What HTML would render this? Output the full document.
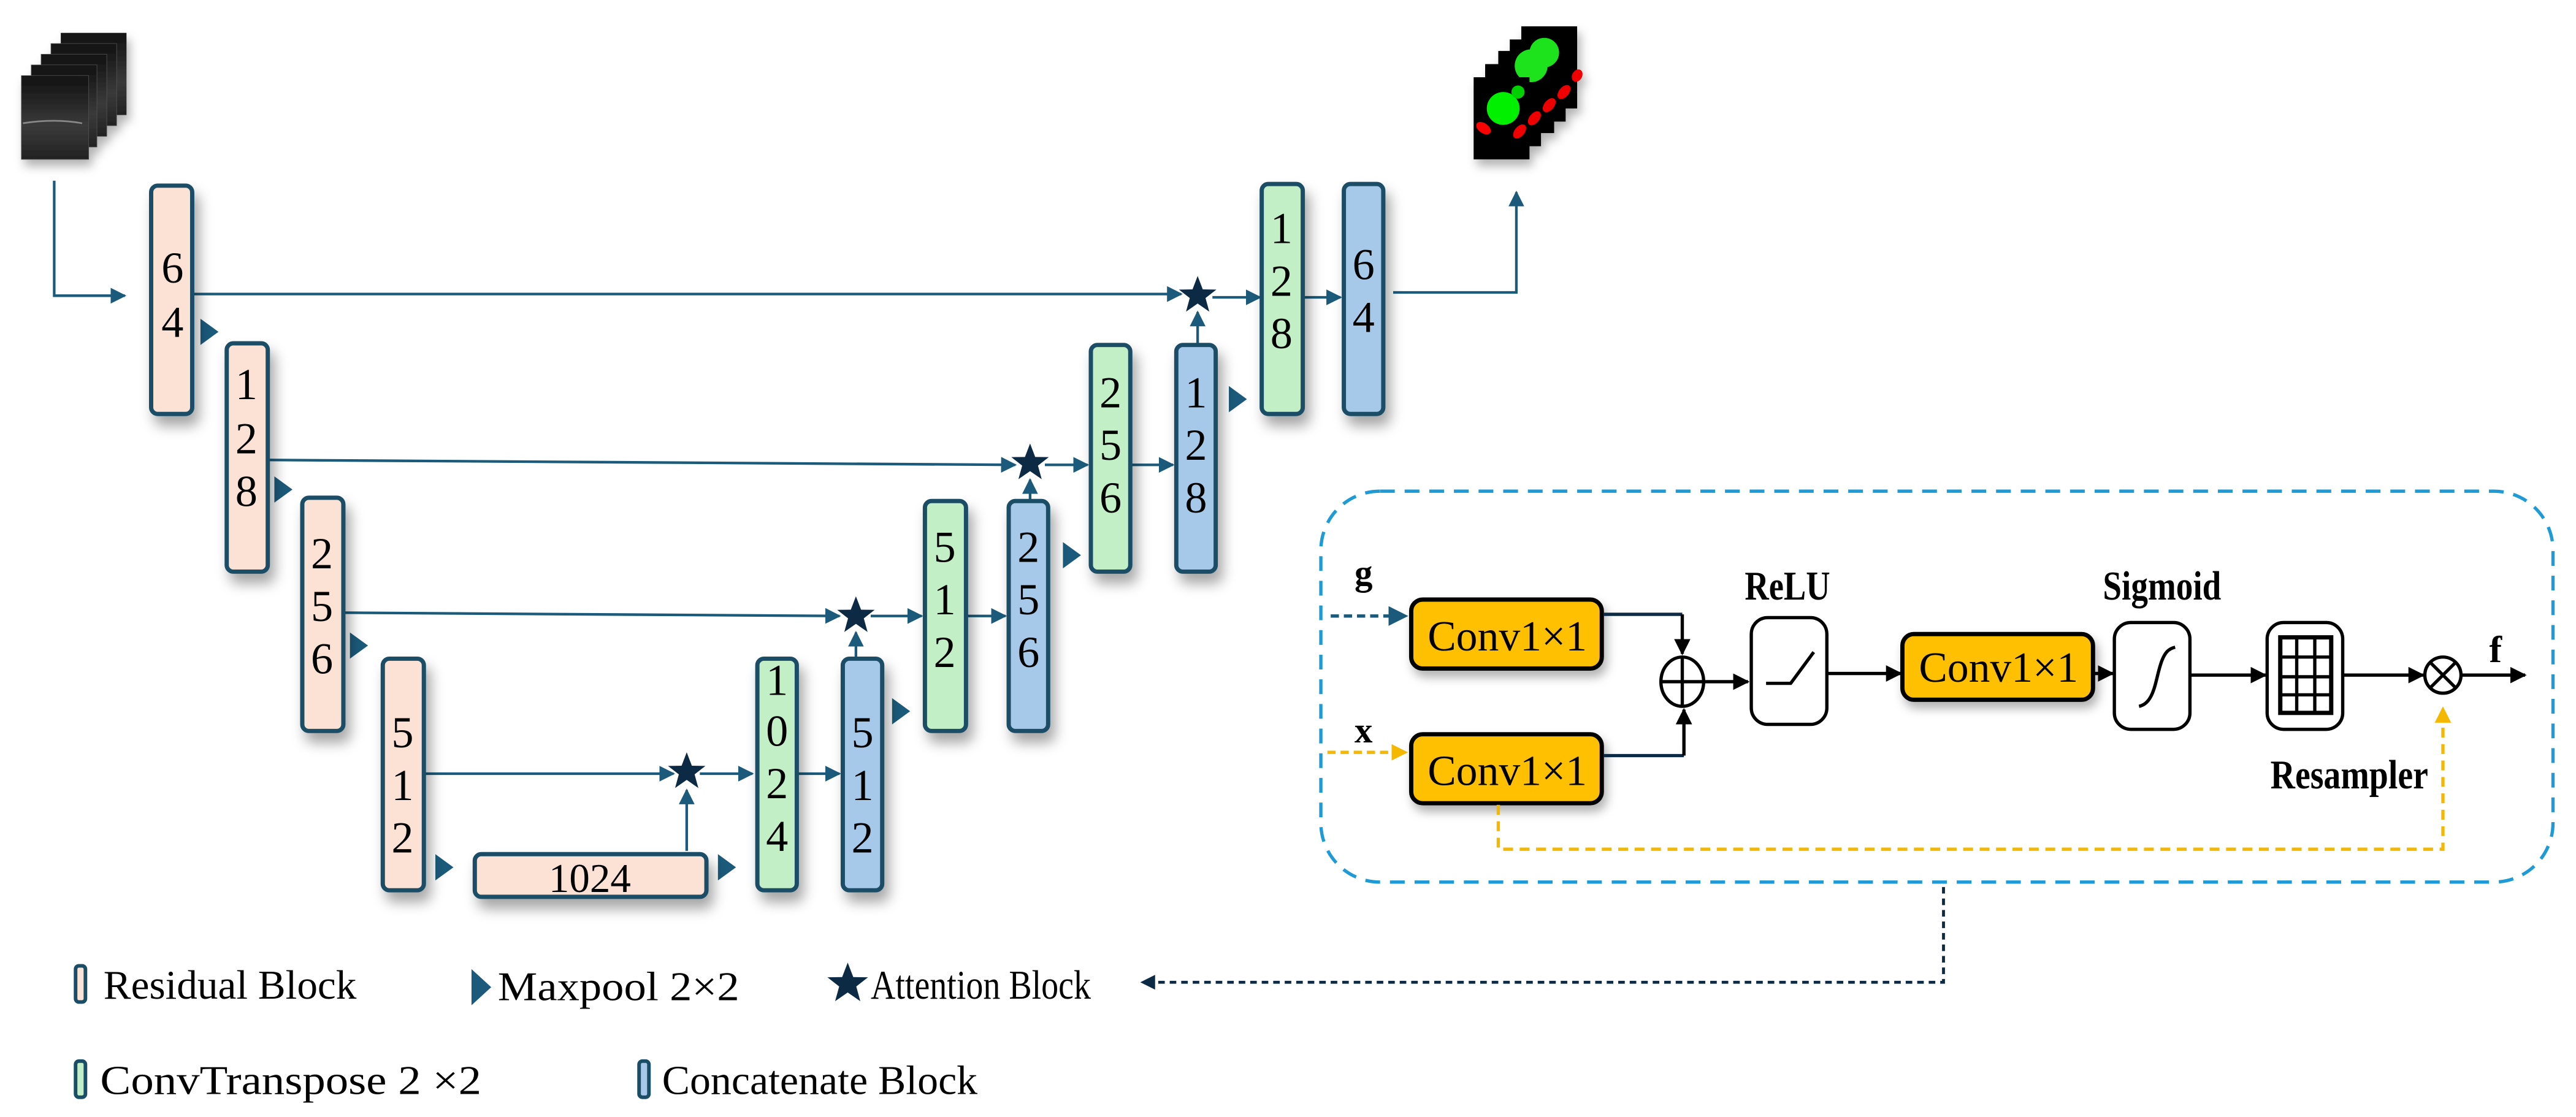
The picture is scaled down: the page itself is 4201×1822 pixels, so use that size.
<!DOCTYPE html>
<html><head><meta charset="utf-8">
<style>
html,body{margin:0;padding:0;background:#fff;}
svg{display:block;}
text{font-family:"Liberation Serif",serif;}
</style></head>
<body>
<svg width="4201" height="1822" viewBox="0 0 1568 680" xmlns="http://www.w3.org/2000/svg">
<defs>
<filter id="sh" x="-50%" y="-20%" width="220%" height="150%">
<feDropShadow dx="3" dy="6" stdDeviation="4" flood-color="#000" flood-opacity="0.35"/>
</filter>
<filter id="sh2" x="-30%" y="-30%" width="160%" height="170%">
<feDropShadow dx="2" dy="4" stdDeviation="3" flood-color="#000" flood-opacity="0.3"/>
</filter>
<marker id="ab" viewBox="0 0 10 10" refX="9" refY="5" markerWidth="6" markerHeight="6" orient="auto-start-reverse"><path d="M0,0 L10,5 L0,10 z" fill="#1b5a7a"/></marker>
<marker id="ak" viewBox="0 0 10 10" refX="9" refY="5" markerWidth="5" markerHeight="5" orient="auto"><path d="M0,0 L10,5 L0,10 z" fill="#000"/></marker>
<marker id="ay" viewBox="0 0 10 10" refX="9" refY="5" markerWidth="5" markerHeight="5" orient="auto"><path d="M0,0 L10,5 L0,10 z" fill="#f5b800"/></marker>
<marker id="an" viewBox="0 0 10 10" refX="9" refY="5" markerWidth="5" markerHeight="5" orient="auto"><path d="M0,0 L10,5 L0,10 z" fill="#0d2a45"/></marker>
<linearGradient id="us" x1="0" y1="0" x2="0" y2="1"><stop offset="0" stop-color="#111"/><stop offset="0.6" stop-color="#3a3a3a"/><stop offset="1" stop-color="#222"/></linearGradient>
<symbol id="star" viewBox="-10 -10 20 20"><path d="M0,-10 L2.6,-3.2 L9.5,-3.1 L4,1.2 L5.9,8.1 L0,4 L-5.9,8.1 L-4,1.2 L-9.5,-3.1 L-2.6,-3.2 z" fill="#0d2a45"/></symbol>
</defs>

<g filter="url(#sh2)">
<rect x="37" y="20" width="40" height="50" fill="url(#us)"/>
<rect x="31" y="26.5" width="40" height="50" fill="url(#us)" stroke="#555" stroke-width="0.3"/>
<rect x="25" y="33" width="40" height="50" fill="url(#us)" stroke="#555" stroke-width="0.3"/>
<rect x="19" y="39.5" width="40" height="50" fill="url(#us)" stroke="#555" stroke-width="0.3"/>
<rect x="13" y="46" width="41" height="51" fill="url(#us)" stroke="#555" stroke-width="0.3"/>
<path d="M14,75 Q33,72 50,75" stroke="#888" stroke-width="1" fill="none"/>
</g>

<g filter="url(#sh2)">
<rect x="926" y="16" width="34" height="50" fill="#000"/>
<rect x="919" y="24" width="34" height="50" fill="#000"/>
<rect x="912" y="31" width="34" height="50" fill="#000"/>
<rect x="904" y="39" width="34" height="50" fill="#000"/>
<circle cx="940" cy="32" r="9" fill="#1ee31e"/>
<circle cx="932" cy="40" r="10" fill="#1ee31e"/>
<rect x="897" y="47" width="34" height="50" fill="#000"/>
<circle cx="915" cy="66" r="10" fill="#00f000"/>
<circle cx="924" cy="56" r="4" fill="#00d000"/>
<ellipse cx="903" cy="78" rx="5" ry="3" fill="#f00" transform="rotate(35 903 78)"/>
<ellipse cx="925" cy="80" rx="5" ry="3" fill="#e00" transform="rotate(-50 925 80)"/>
<ellipse cx="934" cy="72" rx="5" ry="3" fill="#e00" transform="rotate(-50 934 72)"/>
<ellipse cx="943" cy="64" rx="5" ry="3" fill="#e00" transform="rotate(-50 943 64)"/>
<ellipse cx="952" cy="56" rx="5" ry="3" fill="#e00" transform="rotate(-50 952 56)"/>
<ellipse cx="960" cy="46" rx="4" ry="3" fill="#e00" transform="rotate(-60 960 46)"/>
</g>

<g stroke="#1b5a7a" stroke-width="1.6" fill="none">
<path d="M33,110 V180 H76" marker-end="url(#ab)"/>
<path d="M118,179 H719" marker-end="url(#ab)"/>
<path d="M163,280 L618,283" marker-end="url(#ab)"/>
<path d="M209,373 L511,375" marker-end="url(#ab)"/>
<path d="M258,471 H410" marker-end="url(#ab)"/>
<path d="M418,518 V481" marker-end="url(#ab)"/>
<path d="M426,471 H458" marker-end="url(#ab)"/>
<path d="M485,471 H511" marker-end="url(#ab)"/>
<path d="M521,400 V385" marker-end="url(#ab)"/>
<path d="M530,375 H561" marker-end="url(#ab)"/>
<path d="M588,375 H612" marker-end="url(#ab)"/>
<path d="M627,305 V292" marker-end="url(#ab)"/>
<path d="M636,283 H662" marker-end="url(#ab)"/>
<path d="M688,283 H714" marker-end="url(#ab)"/>
<path d="M729,210 V190" marker-end="url(#ab)"/>
<path d="M738,181 H767" marker-end="url(#ab)"/>
<path d="M793,181 H816" marker-end="url(#ab)"/>
<path d="M848,178 H923 V117" marker-end="url(#ab)"/>
</g>
<use href="#star" x="406" y="458" width="24" height="24"/>
<use href="#star" x="509" y="363" width="24" height="24"/>
<use href="#star" x="615" y="270" width="24" height="24"/>
<use href="#star" x="717" y="168" width="24" height="24"/>

<g fill="#1b5a7a">
<path d="M122,194 L133,202 L122,210 z"/>
<path d="M167,290 L178,298 L167,306 z"/>
<path d="M213,385 L224,393 L213,401 z"/>
<path d="M265,520 L276,528 L265,536 z"/>
<path d="M437,520 L448,528 L437,536 z"/>
<path d="M543,425 L554,433 L543,441 z"/>
<path d="M647,330 L658,338 L647,346 z"/>
<path d="M748,235 L759,243 L748,251 z"/>
</g>

<g stroke="#1a4d66" stroke-width="2.6" filter="url(#sh)">
<rect x="92" y="113" width="25" height="139" rx="4" fill="#fbe2d5"/>
<rect x="138" y="209" width="25" height="139" rx="4" fill="#fbe2d5"/>
<rect x="184" y="303" width="25" height="142" rx="4" fill="#fbe2d5"/>
<rect x="233" y="401" width="25" height="141" rx="4" fill="#fbe2d5"/>
<rect x="289" y="520" width="141" height="26" rx="4" fill="#fbe2d5"/>
<rect x="461" y="401" width="24" height="141" rx="4" fill="#c3efc6"/>
<rect x="513" y="401" width="24" height="141" rx="4" fill="#a6c9ea"/>
<rect x="563" y="305" width="25" height="140" rx="4" fill="#c3efc6"/>
<rect x="614" y="305" width="24" height="140" rx="4" fill="#a6c9ea"/>
<rect x="664" y="210" width="24" height="138" rx="4" fill="#c3efc6"/>
<rect x="716" y="210" width="24" height="138" rx="4" fill="#a6c9ea"/>
<rect x="768" y="112" width="25" height="140" rx="4" fill="#c3efc6"/>
<rect x="818" y="112" width="24" height="140" rx="4" fill="#a6c9ea"/>
</g>
<g font-size="27" text-anchor="middle" fill="#000">
<text x="105" y="172">6</text><text x="105" y="205">4</text>
<text x="150" y="243">1</text><text x="150" y="276">2</text><text x="150" y="308">8</text>
<text x="196" y="346">2</text><text x="196" y="378">5</text><text x="196" y="410">6</text>
<text x="245" y="455">5</text><text x="245" y="487">1</text><text x="245" y="519">2</text>
<text x="359" y="543" font-size="25">1024</text>
<text x="473" y="423">1</text><text x="473" y="454">0</text><text x="473" y="486">2</text><text x="473" y="518">4</text>
<text x="525" y="455">5</text><text x="525" y="487">1</text><text x="525" y="519">2</text>
<text x="575" y="342">5</text><text x="575" y="374">1</text><text x="575" y="406">2</text>
<text x="626" y="342">2</text><text x="626" y="374">5</text><text x="626" y="406">6</text>
<text x="676" y="248">2</text><text x="676" y="280">5</text><text x="676" y="312">6</text>
<text x="728" y="248">1</text><text x="728" y="280">2</text><text x="728" y="312">8</text>
<text x="780" y="148">1</text><text x="780" y="180">2</text><text x="780" y="212">8</text>
<text x="830" y="170">6</text><text x="830" y="202">4</text>
</g>

<rect x="804" y="299" width="750" height="238" rx="36" fill="none" stroke="#1e9ad6" stroke-width="2" stroke-dasharray="9,6"/>
<path d="M810,375 H856" stroke="#1b5a7a" stroke-width="2" stroke-dasharray="5,3" fill="none" marker-end="url(#ab)"/>
<path d="M808,458 H856" stroke="#f5b800" stroke-width="2" stroke-dasharray="5,3" fill="none" marker-end="url(#ay)"/>
<text x="830" y="356" font-size="22" font-weight="bold" text-anchor="middle">g</text>
<text x="830" y="452" font-size="22" font-weight="bold" text-anchor="middle">x</text>
<g stroke="#000" stroke-width="2.6" filter="url(#sh2)">
<rect x="859" y="365" width="116" height="42" rx="7" fill="#fec000"/>
<rect x="859" y="447" width="116" height="42" rx="7" fill="#fec000"/>
<rect x="1158" y="386" width="116" height="40" rx="7" fill="#fec000"/>
</g>
<g font-size="26">
<text x="869" y="396" textLength="97" lengthAdjust="spacingAndGlyphs">Conv1×1</text>
<text x="869" y="478" textLength="97" lengthAdjust="spacingAndGlyphs">Conv1×1</text>
<text x="1168" y="415" textLength="97" lengthAdjust="spacingAndGlyphs">Conv1×1</text>
</g>
<g stroke="#0d2a45" stroke-width="2" fill="none">
<path d="M976,374 H1024"/>
<path d="M976,460 H1025"/>
</g>
<g stroke="#000" stroke-width="2" fill="none">
<path d="M1024,374 V398" marker-end="url(#ak)"/>
<path d="M1025,460 V432" marker-end="url(#ak)"/>
<ellipse cx="1024" cy="415" rx="13" ry="15"/>
<path d="M1011,415 H1037 M1024,400 V430"/>
<path d="M1037,415 H1064" marker-end="url(#ak)"/>
<rect x="1066" y="376" width="46" height="65" rx="10" fill="#fff"/>
<path d="M1075,416 H1090 L1104,397"/>
<path d="M1112,410 H1157" marker-end="url(#ak)"/>
<path d="M1274,410 H1286" marker-end="url(#ak)"/>
<rect x="1287" y="379" width="46" height="65" rx="10" fill="#fff"/>
<path d="M1302,430 C1312,428 1312,412 1316,402 C1318,397 1320,395 1324,394"/>
<path d="M1333,411 H1379" marker-end="url(#ak)"/>
<rect x="1380" y="379" width="46" height="65" rx="10" fill="#fff"/>
<rect x="1388" y="388" width="31" height="46" stroke-width="2.6"/>
<path d="M1398,388 V434 M1409,388 V434 M1388,400 H1419 M1388,412 H1419 M1388,423 H1419"/>
<path d="M1426,411 H1475" marker-end="url(#ak)"/>
<circle cx="1487" cy="411" r="11"/>
<path d="M1479,403 L1495,419 M1495,403 L1479,419"/>
<path d="M1498,411 H1537" marker-end="url(#ak)"/>
</g>
<g font-size="25" font-weight="bold">
<text x="1062" y="365" textLength="52" lengthAdjust="spacingAndGlyphs">ReLU</text>
<text x="1280" y="365" textLength="72" lengthAdjust="spacingAndGlyphs">Sigmoid</text>
<text x="1382" y="480" textLength="96" lengthAdjust="spacingAndGlyphs">Resampler</text>
</g>
<text x="1519" y="403" font-size="23" font-weight="bold" text-anchor="middle">f</text>
<path d="M912,490 V517 H1487 V431" stroke="#f5b800" stroke-width="2" stroke-dasharray="6,4" fill="none" marker-end="url(#ay)"/>
<path d="M1183,540 V598 H695" stroke="#0d2a45" stroke-width="1.8" stroke-dasharray="4,3" fill="none" marker-end="url(#an)"/>

<g stroke="#1a4d66" stroke-width="2.2">
<rect x="46" y="588" width="6" height="22" rx="2" fill="#fbe2d5"/>
<rect x="46" y="646" width="6" height="22" rx="2" fill="#c3efc6"/>
<rect x="389" y="646" width="6" height="22" rx="2" fill="#a6c9ea"/>
</g>
<path d="M287,590 L299,601 L287,612 z" fill="#1b5a7a"/>
<use href="#star" x="503" y="586" width="26" height="26"/>
<g font-size="25">
<text x="63" y="608" textLength="154" lengthAdjust="spacingAndGlyphs">Residual Block</text>
<text x="303" y="609" textLength="147" lengthAdjust="spacingAndGlyphs">Maxpool 2×2</text>
<text x="530" y="608" textLength="134" lengthAdjust="spacingAndGlyphs">Attention Block</text>
<text x="61" y="666" textLength="232" lengthAdjust="spacingAndGlyphs">ConvTranspose 2 ×2</text>
<text x="403" y="666" textLength="192" lengthAdjust="spacingAndGlyphs">Concatenate Block</text>
</g>
</svg>
</body></html>
